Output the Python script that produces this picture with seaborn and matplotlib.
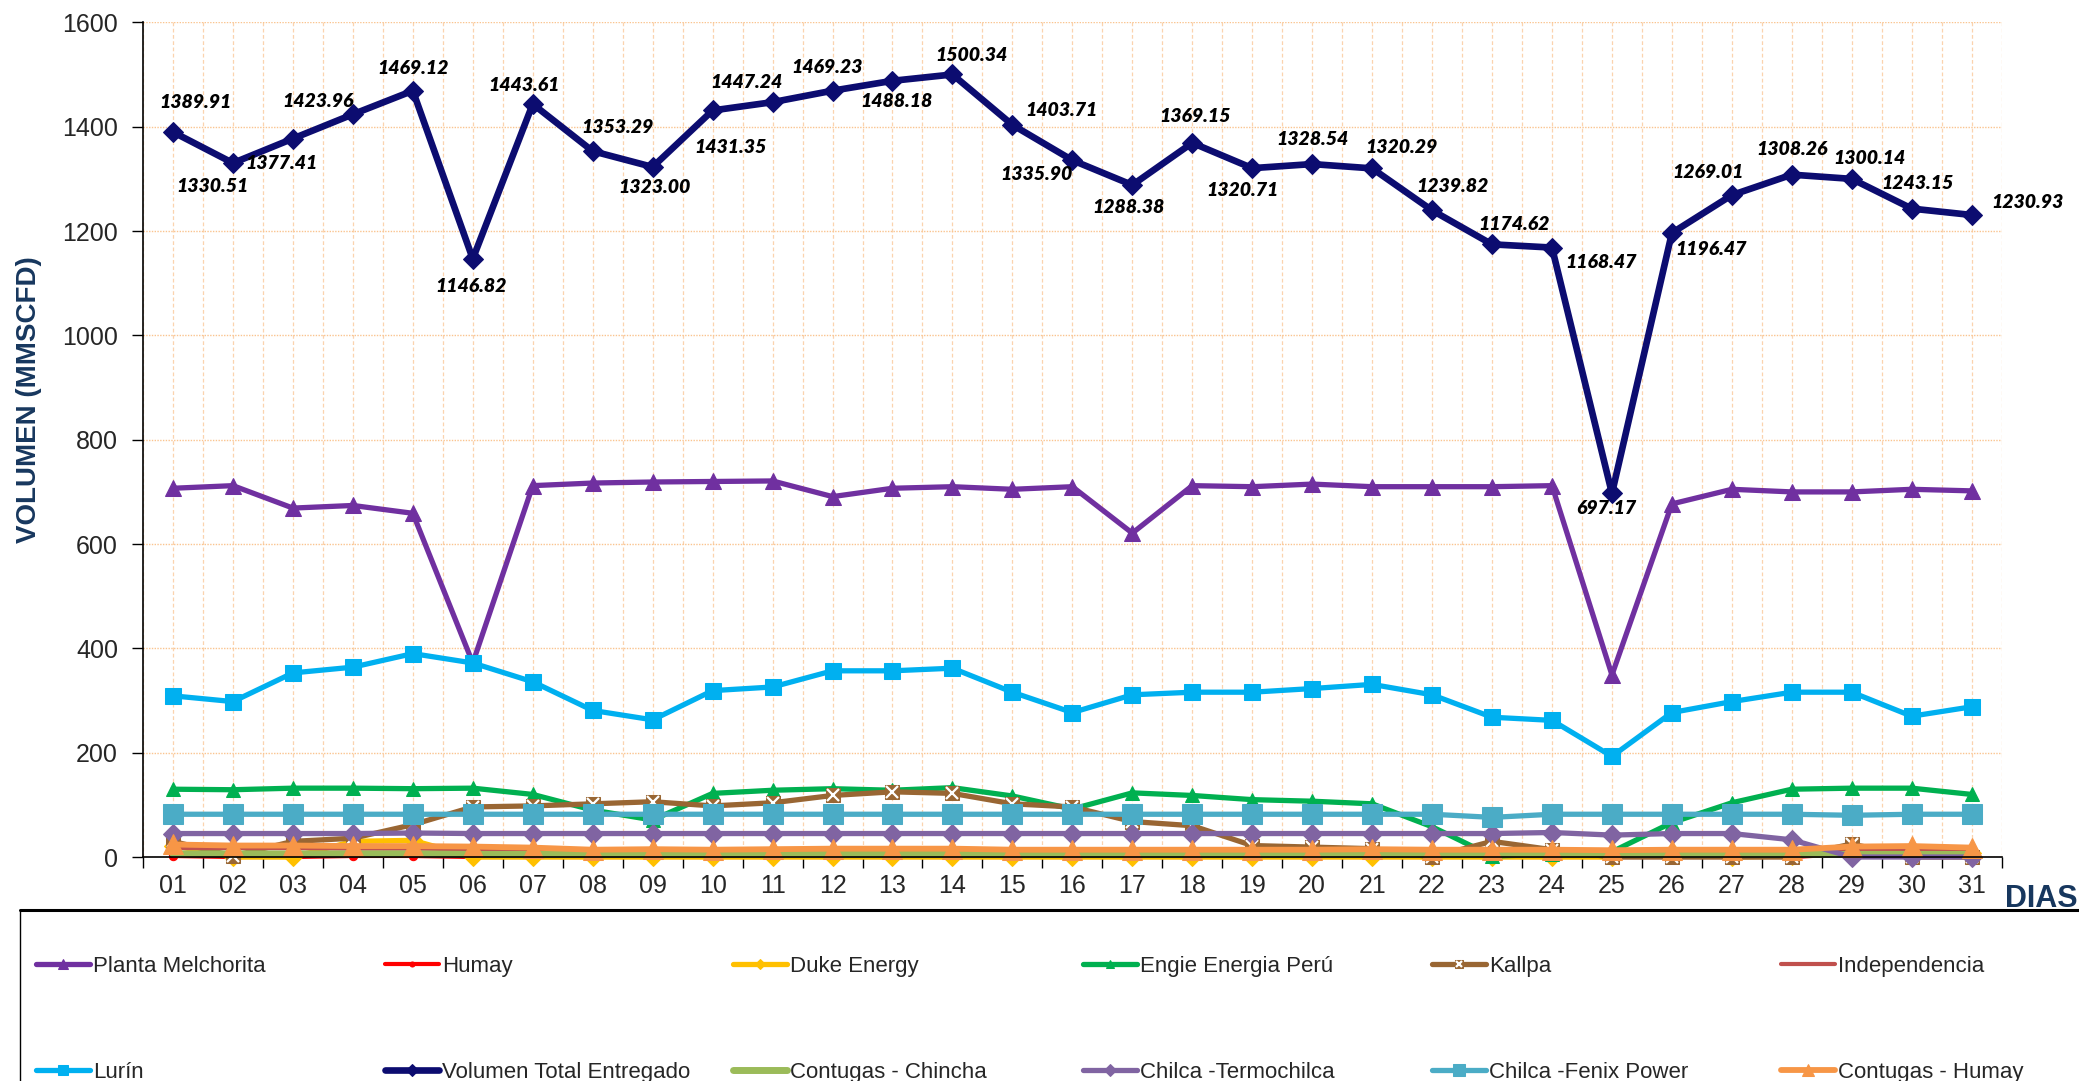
import matplotlib
matplotlib.use("Agg")
import matplotlib.pyplot as plt
import seaborn as sns
from matplotlib.patches import Rectangle
from matplotlib.lines import Line2D

# ---- data (MMSCFD per day) ----
dias = list(range(1, 32))
dia_labels = [f"{d:02d}" for d in dias]

planta_melchorita = [707, 712, 669, 674, 659, 372, 712, 717, 719, 720, 721, 691, 707, 710, 705, 710,
                     621, 712, 710, 715, 710, 710, 710, 712, 349, 677, 705, 700, 700, 705, 702]
humay = [2, 0, 0, 2, 2, 0, 0, 0, 0, 0, 0, 0, 0, 0, 0, 0,
         0, 0, 0, 0, 0, 0, 0, 0, 0, 0, 0, 0, 6, 8, 8]
duke_energy = [22, 0, 0, 30, 32, 0, 0, 0, 0, 0, 0, 0, 0, 0, 0, 0,
               0, 0, 0, 0, 0, 0, 0, 0, 0, 10, 0, 2, 12, 14, 8]
engie = [130, 129, 132, 132, 131, 132, 120, 90, 71, 122, 128, 131, 128, 133, 117, 92,
         123, 118, 110, 107, 102, 58, 2, 5, 10, 66, 104, 130, 132, 132, 120]
kallpa = [30, 2, 30, 36, 62, 96, 98, 102, 106, 98, 104, 118, 125, 122, 102, 96,
          68, 60, 22, 19, 16, 0, 30, 14, 0, 0, 0, 0, 25, 0, 0]
independencia = [17, 17, 17, 16, 16, 15, 14, 12, 12, 12, 12, 12, 12, 12, 11, 11,
                 11, 11, 11, 11, 11, 11, 11, 11, 11, 11, 11, 11, 12, 12, 12]
lurin = [309, 298, 353, 364, 390, 372, 336, 281, 263, 319, 326, 357, 357, 362, 316, 277,
         311, 316, 316, 323, 331, 311, 268, 262, 193, 277, 298, 316, 316, 270, 288]
volumen_total = [1389.91, 1330.51, 1377.41, 1423.96, 1469.12, 1146.82, 1443.61, 1353.29,
                 1323.00, 1431.35, 1447.24, 1469.23, 1488.18, 1500.34, 1403.71, 1335.90,
                 1288.38, 1369.15, 1320.71, 1328.54, 1320.29, 1239.82, 1174.62, 1168.47,
                 697.17, 1196.47, 1269.01, 1308.26, 1300.14, 1243.15, 1230.93]
contugas_chincha = [6, 6, 6, 6, 6, 5, 5, 5, 5, 5, 5, 5, 5, 5, 5, 5,
                    5, 5, 5, 5, 5, 5, 5, 5, 5, 5, 5, 5, 5, 5, 5]
termochilca = [45, 45, 45, 45, 46, 45, 45, 45, 45, 45, 45, 45, 45, 45, 45, 45,
               45, 45, 45, 45, 45, 45, 45, 47, 42, 45, 45, 33, 0, 0, 0]
fenix = [82, 82, 82, 82, 82, 82, 82, 82, 82, 82, 82, 82, 82, 82, 82, 82,
         82, 82, 82, 82, 82, 82, 76, 82, 82, 82, 82, 82, 80, 82, 82]
contugas_humay = [24, 22, 22, 21, 21, 20, 18, 14, 15, 14, 15, 16, 16, 16, 14, 14,
                  14, 14, 14, 14, 15, 14, 14, 14, 13, 14, 14, 14, 20, 21, 18]

series_names = ["Planta Melchorita", "Humay", "Duke Energy", "Engie Energia Perú", "Kallpa",
                "Independencia", "Lurín", "Volumen Total Entregado", "Contugas - Chincha",
                "Chilca -Termochilca", "Chilca -Fenix Power", "Contugas - Humay"]
series_values = [planta_melchorita, humay, duke_energy, engie, kallpa, independencia, lurin,
                 volumen_total, contugas_chincha, termochilca, fenix, contugas_humay]

# ---- styles ----
colors = ["#7030A0", "#FF0000", "#FFC000", "#00B050", "#996633", "#C0504D",
          "#00B0F0", "#0C0C70", "#9BBB59", "#8064A2", "#4BACC6", "#F79646"]
markers = ["^", "o", "D", "^", "s", None, "s", "D", None, "D", "s", "^"]
msizes = [11, 6, 9, 10, 10, 0, 11, 10, 0, 10, 14, 14]
lwidths = [3.8, 3.0, 3.8, 3.8, 3.8, 3.0, 3.8, 4.8, 5.0, 3.8, 3.8, 4.2]

# label offsets (points) for the total volume data labels
label_offsets = [(16, 21), (-15, -17), (-8, -18), (-25, 9), (0, 16), (-1, -20), (-6, 13), (18, 17),
                 (1, -15), (13, -27), (-19, 14), (-4, 17), (3, -15), (14, 14), (35, 10), (-26, -10),
                 (-3, -16), (2, 19), (-7, -16), (0, 18), (21, 15), (15, 17), (16, 14), (35, -11),
                 (-4, -11), (28, -12), (-17, 16), (0, 18), (13, 15), (4, 18), (40, 9)]

sns.set_style("white")
plt.rcParams["font.family"] = ["Liberation Sans", "DejaVu Sans"]

fig = plt.figure(figsize=(20.79, 10.81), dpi=100)
ax = fig.add_axes([0.0688, 0.2072, 0.894, 0.7720])

handles = {}
for name, vals, c, m, ms, lw in zip(series_names, series_values, colors, markers, msizes, lwidths):
    kw = dict(marker=m, markersize=ms, markeredgecolor=c, markerfacecolor=c) if m else {}
    sns.lineplot(x=dias, y=vals, ax=ax, color=c, linewidth=lw, label=name,
                 clip_on=False, legend=False, **kw)
    handles[name] = ax.get_lines()[-1]
    if name == "Kallpa":
        sns.lineplot(x=dias, y=vals, ax=ax, color="#7F5FA0", linewidth=0, marker="x",
                     markersize=8, markeredgewidth=1.6, clip_on=False, legend=False)
        handles[name] = (handles[name], ax.get_lines()[-1])

for d, v, off in zip(dias, volumen_total, label_offsets):
    ax.annotate(f"{v:.2f}", (d, v), xytext=off, textcoords="offset points",
                ha="center", va="center", fontsize=14, fontweight="heavy",
                fontstyle="italic", family=["Lato", "DejaVu Sans"], color="black")

ax.set_xlim(0.5, 31.5)
ax.set_ylim(0, 1600)
ax.set_yticks(range(0, 1601, 200))
ax.set_xticks(dias)
ax.set_xticklabels(dia_labels)
ax.set_xticks([d + 0.5 for d in range(0, 32)], minor=True)
ax.tick_params(axis="x", which="major", length=0, pad=12, labelsize=18)
ax.tick_params(axis="x", which="minor", length=8, width=1, direction="out", color="black", bottom=True)
ax.tick_params(axis="y", length=8, width=1, direction="out", pad=10, labelsize=18, color="black", left=True)

ax.grid(False)
ax.yaxis.grid(True, color="#FAC48F", linewidth=1.0, linestyle=(0, (1, 1)))
ax.xaxis.grid(True, which="both", color="#FBD3AE", linewidth=0.9, linestyle=(0, (3, 2)))
ax.set_axisbelow(True)
for s in ["top", "right"]:
    ax.spines[s].set_visible(False)
for s in ["left", "bottom"]:
    ax.spines[s].set_color("black")
    ax.spines[s].set_linewidth(1.2)
ax.set_xlabel("")
ax.set_ylabel("")

fig.text(0.014, 0.63, "VOLUMEN (MMSCFD)", rotation=90, ha="center", va="center",
         fontsize=20, fontweight="bold", color="#17375E")
fig.text(0.9644, 0.168, "DIAS", ha="left", va="center", fontsize=22,
         fontweight="bold", color="#17375E")

# legend box
fig.patches.append(Rectangle((0.0096, -0.05), 1.1, 0.208, transform=fig.transFigure,
                             facecolor="none", edgecolor="black", linewidth=1.0))
fig.add_artist(Line2D([0.0096, 1.0], [0.158, 0.158], transform=fig.transFigure,
                      color="black", linewidth=2.2))

col_x = [0.0173, 0.1852, 0.3526, 0.5209, 0.6888, 0.8567]
for i, x in enumerate(col_x):
    names = [series_names[i], series_names[i + 6]]
    fig.legend([handles[n] for n in names], names, loc="center left", bbox_to_anchor=(x, 0.057),
               frameon=False, fontsize=16, handlelength=2.43, handletextpad=0.15,
               borderpad=0, borderaxespad=0, labelspacing=3.85, markerscale=0.6)

fig.savefig("out.png", dpi=100)
